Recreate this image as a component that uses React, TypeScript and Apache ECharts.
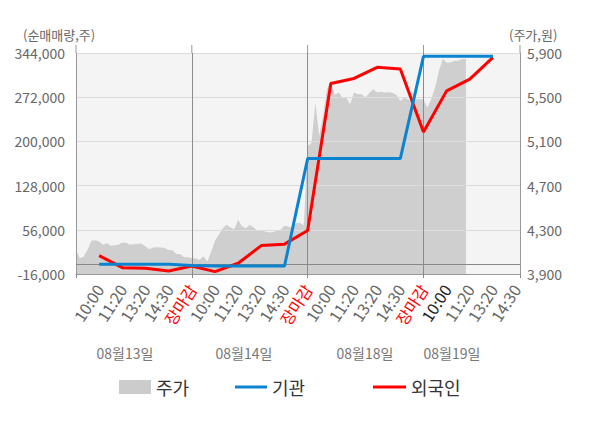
import React, { useEffect, useRef } from 'react';
import * as echarts from 'echarts';

const FONT = '"Noto Sans CJK KR", "Noto Sans", sans-serif';

const dayLabels = ['08월13일', '08월14일', '08월18일', '08월19일'];
const slotLabels = ['10:00', '11:20', '13:20', '14:30', '장마감'];
const SUB = 6; // categories per label slot
const SLOTS_PER_DAY = 5;
const CATEGORY_COUNT = 116;
const CURRENT_DAY = 3;

// 주가 (intraday price, 원)
const priceValues = [
  4118, 4043, 4057, 4120, 4200, 4205, 4194, 4165, 4179, 4155,
  4160, 4165, 4185, 4182, 4164, 4170, 4173, 4173, 4150, 4125,
  4139, 4142, 4139, 4135, 4118, 4115, 4082, 4080, 4052, 4052,
  4043, 4043, 4027, 4060, 4012, 4100, 4200, 4255, 4315, 4345,
  4320, 4306, 4391, 4330, 4315, 4345, 4320, 4294, 4294, 4285,
  4276, 4280, 4291, 4300, 4336, 4330, 4315, 4361, 4361, 4340,
  5057, 5088, 5450, 5150, 5330, 5573, 5648, 5520, 5542, 5500,
  5497, 5436, 5542, 5527, 5527, 5497, 5540, 5573, 5542, 5550,
  5542, 5545, 5540, 5520, 5466, 5497, 5480, 5466, 5482, 5482,
  5482, 5406, 5482, 5588, 5739, 5845, 5815, 5815, 5830, 5830,
  5845, 5845,
];

// 기관 (순매매량, 주) at each label slot from 08/13 10:00
const institutionValues = [
  0, 0, 0, 0, -2000,
  -3000, -3000, -3000, -3000, 172000,
  172000, 172000, 172000, 172000, 338600,
  338600, 338600, 338600,
];

// 외국인 (순매매량, 주)
const foreignValues = [
  14000, -5700, -6500, -11100, -3000,
  -12200, 1500, 30300, 32600, 54900,
  294400, 302600, 320600, 317800, 215200,
  282300, 301500, 337000,
];

const leftMin = -16000;
const leftMax = 344000;
const leftInterval = 72000;
const rightMin = 3900;
const rightMax = 5900;
const rightInterval = 400;

const categories = Array.from({ length: CATEGORY_COUNT }, (_, i) => String(i));

function slotSeries(values: number[]) {
  const arr: (number | null)[] = Array(CATEGORY_COUNT).fill(null);
  values.forEach((v, k) => {
    arr[(k + 1) * SUB] = v - leftMin;
  });
  return arr;
}

export default function App() {
  const ref = useRef<HTMLDivElement>(null);
  useEffect(() => {
    document.body.style.margin = '0';
    if (!ref.current) return;
    const chart = echarts.init(ref.current, undefined, { renderer: 'svg' });
    const dayLen = SUB * SLOTS_PER_DAY;
    const option: any = {
      animation: false,
      textStyle: { fontFamily: FONT },
      grid: {
        left: 76, right: 80, top: 53, bottom: 154,
        show: true, backgroundColor: '#f4f4f4', borderWidth: 0,
      },
      legend: [
        {
          data: [{ name: '주가', icon: 'rect', itemStyle: { color: '#cccccc' } }],
          left: 114, top: 373, itemWidth: 32, itemHeight: 14, itemGap: 0,
          textStyle: { fontSize: 18, color: '#333', fontFamily: FONT },
        },
        {
          data: [{ name: '기관', icon: 'rect', itemStyle: { color: '#0a84d0' } }],
          left: 230, top: 373, itemWidth: 32, itemHeight: 3,
          textStyle: { fontSize: 18, color: '#333', fontFamily: FONT },
        },
        {
          data: [{ name: '외국인', icon: 'rect', itemStyle: { color: '#ff0000' } }],
          left: 368, top: 373, itemWidth: 33, itemHeight: 3,
          textStyle: { fontSize: 18, color: '#333', fontFamily: FONT },
        },
      ],
      xAxis: {
        type: 'category',
        data: categories,
        boundaryGap: false,
        z: 3,
        axisLine: { onZero: false, lineStyle: { color: '#999' } },
        axisTick: {
          show: true, length: 4, lineStyle: { color: '#888' },
          interval: (i: number) => i % dayLen === 0 || i === CATEGORY_COUNT - 1,
        },
        splitLine: {
          show: true, lineStyle: { color: '#8c8c8c', width: 1 },
          interval: (i: number) => i > 0 && i % dayLen === 0,
        },
        axisLabel: {
          interval: (i: number) => i > 0 && i % SUB === 0,
          rotate: 57,
          margin: 12,
          fontSize: 16,
          color: '#666',
          fontFamily: FONT,
          formatter: (_v: string, i: number) => {
            const slotIdx = i / SUB - 1;
            const slot = slotIdx % SLOTS_PER_DAY;
            const day = Math.floor(slotIdx / SLOTS_PER_DAY);
            const t = slotLabels[slot];
            if (slot === SLOTS_PER_DAY - 1) return `{r|${t}}`;
            if (day === CURRENT_DAY && slot === 0) return `{d|${t}}`;
            return t;
          },
          rich: {
            r: { color: '#ff0000', fontSize: 16, fontFamily: FONT },
            d: { color: '#222', fontSize: 16, fontFamily: FONT },
          },
        },
      },
      yAxis: [
        {
          type: 'value',
          min: 0,
          max: leftMax - leftMin,
          interval: leftInterval,
          z: 3,
          axisLine: { show: true, lineStyle: { color: '#999' } },
          axisTick: { show: false },
          splitLine: { show: true, lineStyle: { color: '#dcdcdc' } },
          axisLabel: {
            margin: 11, fontSize: 14, color: '#666', fontFamily: FONT,
            formatter: (v: number) => (v + leftMin).toLocaleString('en-US'),
          },
        },
        {
          type: 'value',
          min: 0,
          max: rightMax - rightMin,
          interval: rightInterval,
          z: 3,
          axisLine: { show: true, lineStyle: { color: '#999' } },
          axisTick: { show: false },
          splitLine: { show: false },
          axisLabel: {
            margin: 7, fontSize: 14, color: '#666', fontFamily: FONT,
            formatter: (v: number) => (v + rightMin).toLocaleString('en-US'),
          },
        },
      ],
      series: [
        {
          name: '주가',
          type: 'line',
          yAxisIndex: 1,
          z: 1,
          symbol: 'none',
          color: '#cccccc',
          lineStyle: { width: 0 },
          areaStyle: { color: '#cfcfcf', opacity: 1, origin: 'start' },
          data: priceValues.map((v) => v - rightMin),
        },
        {
          name: '외국인',
          type: 'line',
          yAxisIndex: 0,
          z: 5,
          symbol: 'none',
          connectNulls: true,
          color: '#ff0000',
          lineStyle: { width: 3, color: '#ff0000' },
          data: slotSeries(foreignValues),
          markLine: {
            silent: true,
            symbol: ['none', 'none'],
            label: { show: false },
            lineStyle: { color: '#888', width: 1, type: 'solid' },
            data: [{ yAxis: 0 - leftMin }],
          },
        },
        {
          name: '기관',
          type: 'line',
          yAxisIndex: 0,
          z: 6,
          symbol: 'none',
          connectNulls: true,
          color: '#0a84d0',
          lineStyle: { width: 3, color: '#0a84d0' },
          data: slotSeries(institutionValues),
        },
      ],
    };
    chart.setOption(option);

    const topY = chart.convertToPixel({ yAxisIndex: 0 }, leftMax - leftMin) as number;
    const stubIdx = [0, dayLen, dayLen * 2, dayLen * 3, CATEGORY_COUNT - 1];
    const stubs = stubIdx.map((i) => {
      const x = chart.convertToPixel({ xAxisIndex: 0 }, i) as number;
      return {
        type: 'line',
        silent: true,
        shape: { x1: x, y1: topY - 8, x2: x, y2: topY },
        style: { stroke: '#999', lineWidth: 1 },
      };
    });
    const dayCenters = [125, 244, 365, 452];
    const dayTexts = dayLabels.map((d, k) => ({
      type: 'text',
      x: dayCenters[k],
      y: 353,
      style: {
        text: d, fill: '#777', font: `14px ${FONT}`,
        textAlign: 'center', textVerticalAlign: 'middle',
      },
    }));
    chart.setOption({
      graphic: [
        ...stubs,
        ...dayTexts,
        {
          type: 'text', x: 23, y: 34,
          style: { text: '(순매매량,주)', fill: '#666', font: `13px ${FONT}`, textAlign: 'left', textVerticalAlign: 'middle' },
        },
        {
          type: 'text', x: 509, y: 34,
          style: { text: '(주가,원)', fill: '#666', font: `13px ${FONT}`, textAlign: 'left', textVerticalAlign: 'middle' },
        },
      ],
    });
    return () => chart.dispose();
  }, []);
  return <div ref={ref} style={{ width: 600, height: 428 }} />;
}
